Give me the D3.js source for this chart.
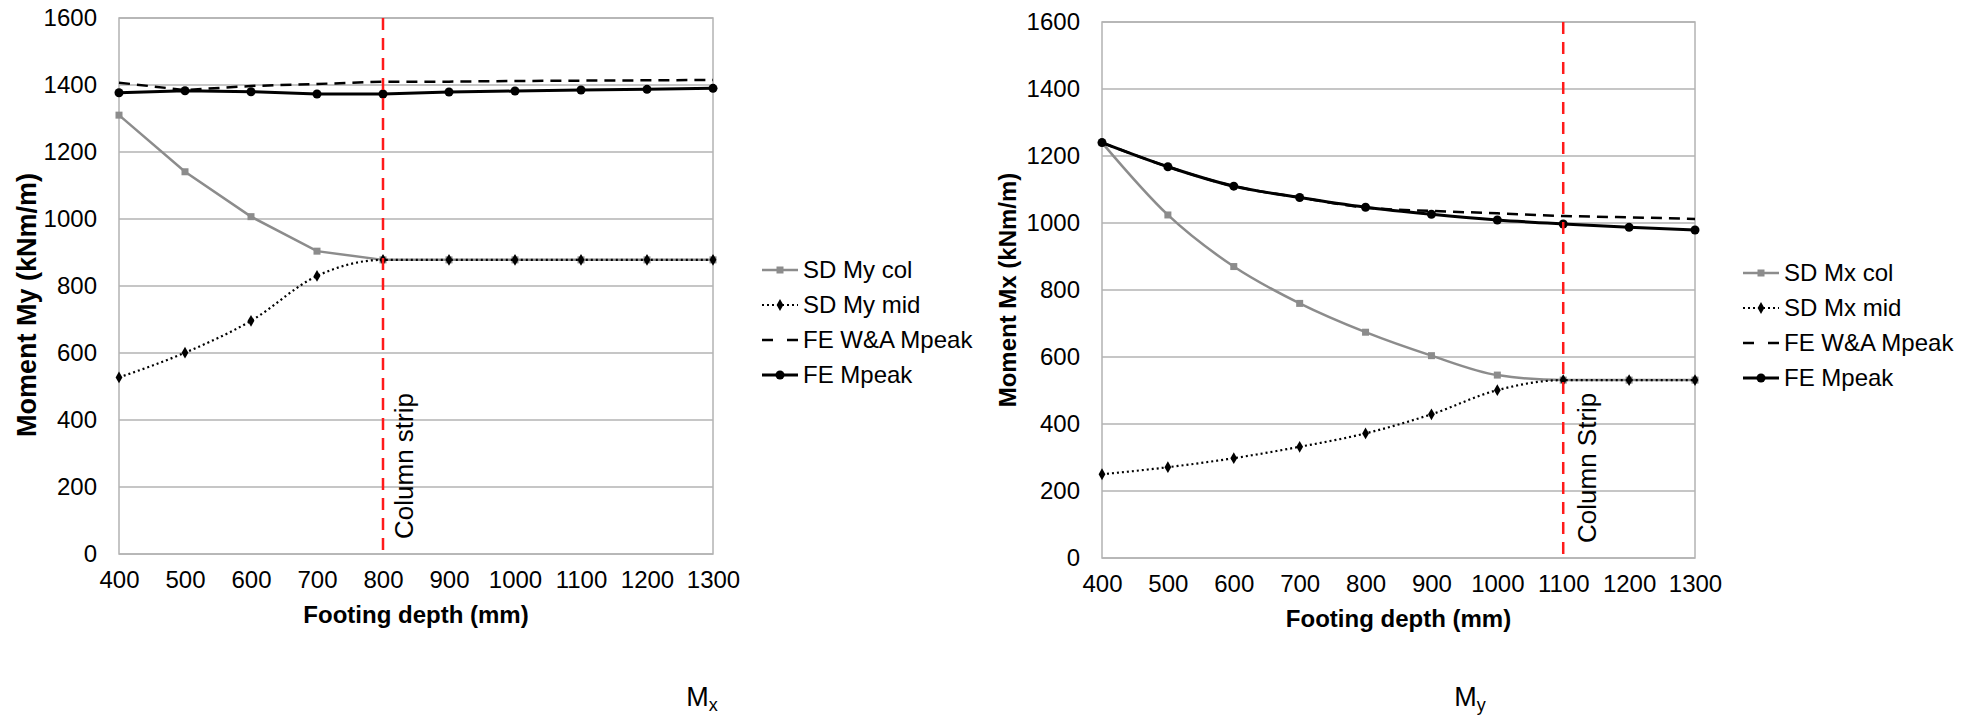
<!DOCTYPE html>
<html>
<head>
<meta charset="utf-8">
<script src="https://cdn.jsdelivr.net/npm/d3@7"></script>
<style>
  html, body { margin: 0; padding: 0; background: #fff; }
  svg text { font-family: Arial, "Liberation Sans", sans-serif; fill: #000; }
</style>
</head>
<body>
<svg id="chart" width="1980" height="720"></svg>
<script>
// Footing depths (mm) shared by both panels
const depths = [400, 500, 600, 700, 800, 900, 1000, 1100, 1200, 1300];
const yTicks = [0, 200, 400, 600, 800, 1000, 1200, 1400, 1600];

// Panel Mx: moment My (kNm/m)
const myCol  = [1310, 1141, 1007, 904, 878, 878, 878, 878, 878, 878];
const myMid  = [527, 601, 696, 830, 878, 878, 878, 878, 878, 878];
const myWA   = [1407, 1385, 1397, 1403, 1410, 1410, 1412, 1413, 1414, 1415];
const myPeak = [1377, 1383, 1380, 1373, 1373, 1379, 1382, 1385, 1387, 1390];

// Panel My: moment Mx (kNm/m)
const mxCol  = [1240, 1024, 870, 760, 674, 604, 546, 531, 531, 531];
const mxMid  = [250, 271, 298, 332, 372, 429, 501, 531, 531, 531];
const mxWA   = [1240, 1168, 1110, 1076, 1046, 1036, 1029, 1021, 1017, 1012];
const mxPeak = [1240, 1168, 1110, 1076, 1047, 1026, 1009, 997, 987, 979];

const svg = d3.select("#chart");
const plain = d3.format("d");

function drawPanel(p) {
  const x = d3.scaleLinear().domain([400, 1300]).range([p.left, p.right]);
  const y = d3.scaleLinear().domain([0, 1600]).range([p.bottom, p.top]);
  const g = svg.append("g");

  // horizontal gridlines
  g.append("g").selectAll("line").data(yTicks).join("line")
    .attr("x1", p.left).attr("x2", p.right)
    .attr("y1", d => y(d)).attr("y2", d => y(d))
    .attr("stroke", "#b3b3b3").attr("stroke-width", 1.5);
  // plot frame
  g.append("rect").attr("x", p.left).attr("y", p.top)
    .attr("width", p.right - p.left).attr("height", p.bottom - p.top)
    .attr("fill", "none").attr("stroke", "#b3b3b3").attr("stroke-width", 1.5);

  // y axis labels
  const yAxis = d3.axisLeft(y).tickValues(yTicks).tickFormat(plain).tickSize(0).tickPadding(22);
  const ya = g.append("g").attr("transform", `translate(${p.left},0)`).call(yAxis);
  ya.select(".domain").remove();
  ya.selectAll("text").style("font-size", "24px").attr("font-family", null);

  // x axis labels
  const xAxis = d3.axisBottom(x).tickValues(depths).tickFormat(plain).tickSize(0).tickPadding(17);
  const xa = g.append("g").attr("transform", `translate(0,${p.bottom})`).call(xAxis);
  xa.select(".domain").remove();
  xa.selectAll("text").style("font-size", "24px").attr("font-family", null);

  // axis titles
  g.append("text").attr("x", (p.left + p.right) / 2).attr("y", p.bottom + 69)
    .attr("text-anchor", "middle").style("font-size", "24px").style("font-weight", "bold")
    .text("Footing depth (mm)");
  g.append("text")
    .attr("transform", `translate(${p.yTitleX},${p.yTitleY}) rotate(-90)`)
    .attr("text-anchor", "middle").style("font-size", p.yTitleSize + "px").style("font-weight", "bold")
    .text(p.yTitle);

  const pts = vals => vals.map((v, i) => [x(depths[i]), y(v)]);

  // SD column strip (grey, square markers)
  g.append("path").attr("d", d3.line().curve(p.colCurve)(pts(p.col)))
    .attr("fill", "none").attr("stroke", "#8c8c8c").attr("stroke-width", 2.5);
  g.append("g").selectAll("rect").data(pts(p.col)).join("rect")
    .attr("x", d => d[0] - 3.5).attr("y", d => d[1] - 3.5)
    .attr("width", 7).attr("height", 7).attr("fill", "#8c8c8c");

  // SD middle strip (dotted, diamond markers)
  g.append("path").attr("d", d3.line().curve(d3.curveMonotoneX)(pts(p.mid)))
    .attr("fill", "none").attr("stroke", "#000").attr("stroke-width", 2.2)
    .attr("stroke-dasharray", "2,3");
  g.append("g").selectAll("path").data(pts(p.mid)).join("path")
    .attr("d", d3.symbol().type(d3.symbolDiamond).size(40))
    .attr("transform", d => `translate(${d[0]},${d[1]})`).attr("fill", "#000");

  // FE W&A peak (dashed)
  g.append("path").attr("d", d3.line().curve(p.feCurve)(pts(p.wa)))
    .attr("fill", "none").attr("stroke", "#000").attr("stroke-width", 2.5)
    .attr("stroke-dasharray", "11,7");

  // FE peak (solid, circle markers)
  g.append("path").attr("d", d3.line().curve(p.feCurve)(pts(p.peak)))
    .attr("fill", "none").attr("stroke", "#000").attr("stroke-width", 3);
  g.append("g").selectAll("circle").data(pts(p.peak)).join("circle")
    .attr("cx", d => d[0]).attr("cy", d => d[1]).attr("r", 4.5).attr("fill", "#000");

  // column strip boundary
  g.append("line").attr("x1", x(p.strip)).attr("x2", x(p.strip))
    .attr("y1", p.top).attr("y2", p.bottom)
    .attr("stroke", "#ff1a1a").attr("stroke-width", 2.5).attr("stroke-dasharray", "12,8");
  g.append("text")
    .attr("transform", `translate(${x(p.strip) + p.stripDx},${p.bottom - 15}) rotate(-90)`)
    .attr("text-anchor", "start").style("font-size", "26px")
    .text(p.stripLabel);

  // legend
  const lg = g.append("g").attr("transform", `translate(${p.legX},${p.legY})`);
  const items = [
    { name: p.names[0], kind: "col" },
    { name: p.names[1], kind: "mid" },
    { name: p.names[2], kind: "wa" },
    { name: p.names[3], kind: "peak" }
  ];
  items.forEach((it, i) => {
    const row = lg.append("g").attr("transform", `translate(0,${i * 35})`);
    if (it.kind === "col") {
      row.append("line").attr("x1", 0).attr("x2", 36).attr("stroke", "#8c8c8c").attr("stroke-width", 2.5);
      row.append("rect").attr("x", 14.5).attr("y", -3.5).attr("width", 7).attr("height", 7).attr("fill", "#8c8c8c");
    } else if (it.kind === "mid") {
      row.append("line").attr("x1", 0).attr("x2", 36).attr("stroke", "#000").attr("stroke-width", 2.2).attr("stroke-dasharray", "2,3");
      row.append("path").attr("d", d3.symbol().type(d3.symbolDiamond).size(40)).attr("transform", "translate(18,0)");
    } else if (it.kind === "wa") {
      row.append("line").attr("x1", 0).attr("x2", 36).attr("stroke", "#000").attr("stroke-width", 2.5).attr("stroke-dasharray", "11,14");
    } else {
      row.append("line").attr("x1", 0).attr("x2", 36).attr("stroke", "#000").attr("stroke-width", 3);
      row.append("circle").attr("cx", 18).attr("cy", 0).attr("r", 4.5);
    }
    row.append("text").attr("x", 41).attr("dy", "0.35em").style("font-size", "24px").text(it.name);
  });

  // panel caption
  const cap = svg.append("text").attr("x", p.capX).attr("y", 706).attr("text-anchor", "middle")
    .style("font-size", "27px");
  cap.append("tspan").text("M");
  cap.append("tspan").attr("dy", 5).style("font-size", "18px").text(p.capSub);
}

drawPanel({
  left: 119, right: 713, top: 18, bottom: 554,
  col: myCol, mid: myMid, wa: myWA, peak: myPeak,
  colCurve: d3.curveLinear, feCurve: d3.curveLinear,
  strip: 800, stripLabel: "Column strip", stripDx: 30,
  yTitle: "Moment My  (kNm/m)", yTitleX: 36, yTitleY: 305, yTitleSize: 27,
  legX: 762, legY: 270,
  names: ["SD My col", "SD My mid", "FE W&A Mpeak", "FE Mpeak"],
  capX: 702, capSub: "x"
});

drawPanel({
  left: 1102, right: 1695, top: 22, bottom: 558,
  col: mxCol, mid: mxMid, wa: mxWA, peak: mxPeak,
  colCurve: d3.curveMonotoneX, feCurve: d3.curveMonotoneX,
  strip: 1100, stripLabel: "Column Strip", stripDx: 33,
  yTitle: "Moment Mx  (kNm/m)", yTitleX: 1016, yTitleY: 290, yTitleSize: 24,
  legX: 1743, legY: 273,
  names: ["SD Mx col", "SD Mx mid", "FE W&A Mpeak", "FE Mpeak"],
  capX: 1470, capSub: "y"
});
</script>
</body>
</html>
